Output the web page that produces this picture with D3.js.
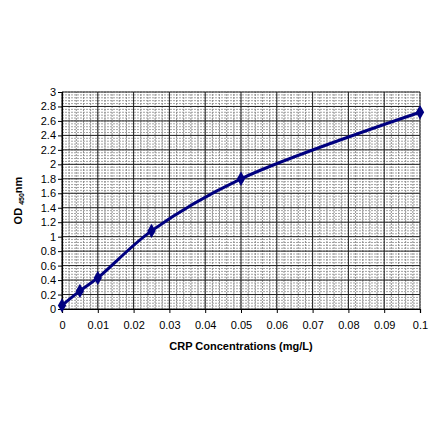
<!DOCTYPE html>
<html>
<head>
    <meta charset="utf-8">
    <script src="https://cdn.jsdelivr.net/npm/d3@7"></script>
    <style>
        body { margin: 0; background: #fff; }
        text { font-family: "Liberation Sans", Arial, sans-serif; }
    </style>
</head>
<body>
    <svg id="chart" width="440" height="441"></svg>

    <script>
        // data
        const concentrations = [0, 0.005, 0.01, 0.025, 0.05, 0.1];
        const odValues = [0.05, 0.25, 0.43, 1.08, 1.8, 2.72];
        const xTicks = [0, 0.01, 0.02, 0.03, 0.04, 0.05, 0.06, 0.07, 0.08, 0.09, 0.1];
        const yTicks = [0, 0.2, 0.4, 0.6, 0.8, 1, 1.2, 1.4, 1.6, 1.8, 2, 2.2, 2.4, 2.6, 2.8, 3];

        const svg = d3.select("#chart");
        const margin = { left: 62, right: 20, top: 92, bottom: 132 };
        const width = +svg.attr("width"), height = +svg.attr("height");

        const x = d3.scaleLinear().domain([0, 0.1]).range([margin.left, width - margin.right]);
        const y = d3.scaleLinear().domain([0, 3]).range([height - margin.bottom, margin.top]);

        const grid = svg.append("g");

        // minor gridlines, 5 per major step
        const xMinor = d3.range(0, 0.1001, 0.002);
        const yMinor = d3.range(0, 3.001, 0.04);

        grid.selectAll(".xminor").data(xMinor).join("line")
            .attr("x1", d => x(d)).attr("x2", d => x(d))
            .attr("y1", y(0)).attr("y2", y(3))
            .attr("stroke", "#7a7a7a").attr("stroke-width", 0.8)
            .attr("stroke-dasharray", "2,1");

        grid.selectAll(".yminor").data(yMinor).join("line")
            .attr("x1", x(0)).attr("x2", x(0.1))
            .attr("y1", d => y(d)).attr("y2", d => y(d))
            .attr("stroke", "#8a8a8a").attr("stroke-width", 0.8)
            .attr("stroke-dasharray", "2,1");

        // major gridlines
        grid.selectAll(".xmajor").data(xTicks).join("line")
            .attr("x1", d => x(d)).attr("x2", d => x(d))
            .attr("y1", y(0)).attr("y2", y(3))
            .attr("stroke", "#222").attr("stroke-width", 1);

        grid.selectAll(".ymajor").data(yTicks).join("line")
            .attr("x1", x(0)).attr("x2", x(0.1))
            .attr("y1", d => y(d)).attr("y2", d => y(d))
            .attr("stroke", "#222").attr("stroke-width", 1);

        // axes
        const xAxis = svg.append("g")
            .attr("transform", `translate(0,${y(0)})`)
            .call(d3.axisBottom(x).tickValues(xTicks).tickSize(4).tickPadding(8)
                .tickFormat(d => d3.format("")(+d.toFixed(2))));
        const yAxis = svg.append("g")
            .attr("transform", `translate(${x(0)},0)`)
            .call(d3.axisLeft(y).tickValues(yTicks).tickSize(4).tickPadding(2)
                .tickFormat(d => d3.format("")(+d.toFixed(1))));

        [xAxis, yAxis].forEach(a => {
            a.select(".domain").attr("stroke", "#000").attr("stroke-width", 1.2);
            a.selectAll(".tick line").attr("stroke", "#000");
            a.selectAll("text").attr("font-size", 11).attr("fill", "#000")
                .style("font-family", "'Liberation Sans', Arial, sans-serif");
        });

        // curve
        const points = concentrations.map((c, i) => [c, odValues[i]]);

        svg.append("path")
            .datum(points)
            .attr("fill", "none")
            .attr("stroke", "#000080")
            .attr("stroke-width", 3)
            .attr("d", d3.line().x(d => x(d[0])).y(d => y(d[1])).curve(d3.curveCatmullRom));

        svg.append("g").selectAll("path")
            .data(points)
            .join("path")
            .attr("transform", d => `translate(${x(d[0])},${y(d[1])})`)
            .attr("d", d3.symbol(d3.symbolDiamond, 60))
            .attr("fill", "#000080");

        // axis titles
        svg.append("text")
            .attr("x", (x(0) + x(0.1)) / 2)
            .attr("y", 350)
            .attr("text-anchor", "middle")
            .attr("font-size", 11)
            .attr("font-weight", "bold")
            .text("CRP Concentrations (mg/L)");

        const yTitle = svg.append("text")
            .attr("transform", `translate(22,${(y(0) + y(3)) / 2}) rotate(-90)`)
            .attr("text-anchor", "middle")
            .attr("font-size", 11)
            .attr("font-weight", "bold");
        yTitle.append("tspan").text("OD ");
        yTitle.append("tspan").attr("font-size", 7).attr("dy", 2).text("450");
        yTitle.append("tspan").attr("dy", -2).text("nm");
    </script>
</body>
</html>
